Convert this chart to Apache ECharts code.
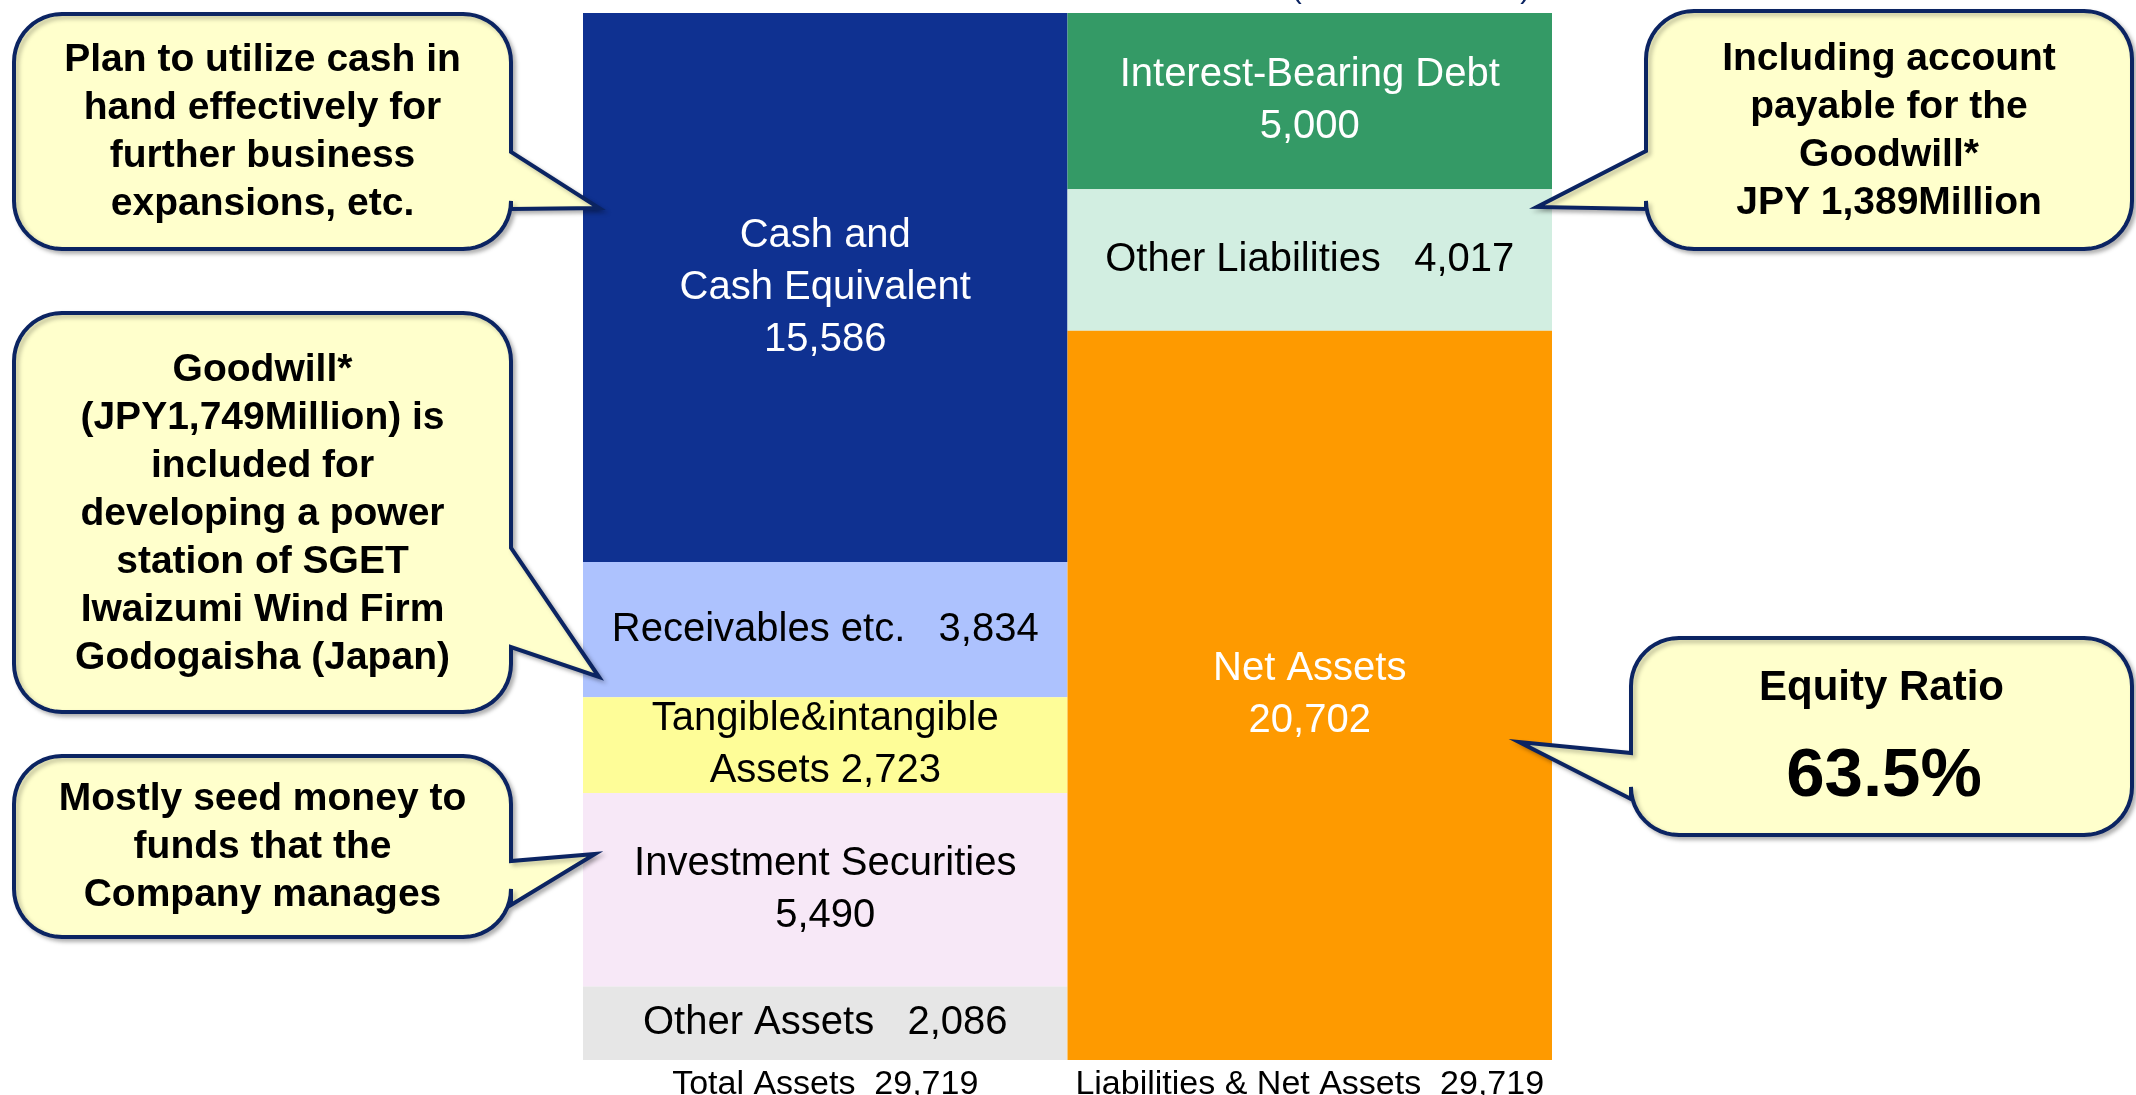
<!DOCTYPE html>
<html>
<head>
<meta charset="utf-8">
<title>Balance Sheet</title>
<script src="https://cdn.jsdelivr.net/npm/echarts@6/dist/echarts.min.js"></script>
<style>
  html, body { margin: 0; padding: 0; background: #fff; }
  #main { width: 2136px; height: 1095px; }
</style>
</head>
<body>
<div id="main"></div>
<script>
// 数据
var categories = ['Total Assets', 'Liabilities & Net Assets'];
var assetNames = ['Cash and\nCash Equivalent\n', 'Receivables etc.   ', 'Tangible&intangible\nAssets ', 'Investment Securities\n', 'Other Assets   '];
var assetValues = [15586, 3834, 2723, 5490, 2086];
var liabNames = ['Interest-Bearing Debt\n', 'Other Liabilities   ', 'Net Assets\n'];
var liabValues = [5000, 4017, 20702];

var assetColors = ['#0f3191', '#adc2fe', '#fefd98', '#f7e8f7', '#e6e6e6'];
var assetText = ['#fff', '#000', '#000', '#000', '#000'];
var liabColors = ['#349a66', '#d2eee1', '#fe9a00'];
var liabText = ['#fff', '#000', '#fff'];

var FONT = '"Liberation Sans", Arial, Helvetica, sans-serif';

function fmt(v) {
  return v.toLocaleString('en-US');
}
function sum(arr) {
  return arr.reduce(function (a, b) { return a + b; }, 0);
}
var totals = [sum(assetValues), sum(liabValues)];

function makeSeries(names, values, colors, textColors, col) {
  return values.map(function (v, i) {
    var d = col === 0 ? [v, '-'] : ['-', v];
    return {
      type: 'bar',
      stack: 'bs',
      barCategoryGap: '0%',
      barWidth: '100%',
      data: d,
      itemStyle: { color: colors[i] },
      silent: true,
      label: {
        show: true,
        position: 'inside',
        fontFamily: FONT,
        fontSize: 40,
        lineHeight: 52,
        color: textColors[i],
        align: 'center',
        formatter: function (p) {
          return names[i] + fmt(p.value);
        }
      }
    };
  });
}

var series = makeSeries(assetNames, assetValues, assetColors, assetText, 0)
  .concat(makeSeries(liabNames, liabValues, liabColors, liabText, 1));

// 吹き出し (rounded box + tail) as polygon points
function arcPts(cx, cy, r, a0, a1) {
  var pts = [];
  var n = 12;
  for (var i = 0; i <= n; i++) {
    var a = a0 + (a1 - a0) * i / n;
    pts.push([cx + r * Math.cos(a), cy + r * Math.sin(a)]);
  }
  return pts;
}
function calloutPoints(x0, y0, x1, y1, r, side, ya, yb, tx, ty) {
  var P = Math.PI;
  var pts = [];
  // top-right corner
  pts = pts.concat(arcPts(x1 - r, y0 + r, r, -P / 2, 0));
  if (side === 'right') {
    pts.push([x1, ya], [tx, ty], [x1, yb]);
  }
  // bottom-right, bottom-left
  pts = pts.concat(arcPts(x1 - r, y1 - r, r, 0, P / 2));
  pts = pts.concat(arcPts(x0 + r, y1 - r, r, P / 2, P));
  if (side === 'left') {
    pts.push([x0, yb], [tx, ty], [x0, ya]);
  }
  // top-left
  pts = pts.concat(arcPts(x0 + r, y0 + r, r, P, P * 1.5));
  return pts;
}

function callout(box, text, cy, fontSize, lineHeight) {
  var shape = {
    type: 'polygon',
    shape: { points: calloutPoints.apply(null, box) },
    style: {
      fill: '#ffffcc',
      stroke: '#0b2462',
      lineWidth: 4,
      lineJoin: 'miter',
      shadowColor: 'rgba(0,0,0,0.25)',
      shadowBlur: 4,
      shadowOffsetX: 3,
      shadowOffsetY: 3
    },
    z: 10
  };
  var label = {
    type: 'text',
    z: 11,
    style: {
      text: text,
      x: (box[0] + box[2]) / 2,
      y: cy,
      textAlign: 'center',
      textVerticalAlign: 'middle',
      fontFamily: FONT,
      fontWeight: 'bold',
      fontSize: fontSize || 39,
      lineHeight: lineHeight || 48,
      fill: '#000'
    }
  };
  return [shape, label];
}

var graphics = []
  .concat(callout([14, 14, 511, 249, 48, 'right', 152, 209, 599, 208],
    'Plan to utilize cash in\nhand effectively for\nfurther business\nexpansions, etc.', 132))
  .concat(callout([1646, 11, 2132, 249, 48, 'left', 151, 209, 1537, 207],
    'Including account\npayable for the\nGoodwill*\nJPY 1,389Million', 131))
  .concat(callout([14, 313, 511, 712, 48, 'right', 548, 647, 599, 677],
    'Goodwill*\n(JPY1,749Million) is\nincluded for\ndeveloping a power\nstation of SGET\nIwaizumi Wind Firm\nGodogaisha (Japan)', 514))
  .concat(callout([14, 756, 511, 937, 48, 'right', 861, 905, 595, 854],
    'Mostly seed money to\nfunds that the\nCompany manages', 847))
  .concat(callout([1631, 638, 2132, 835, 48, 'left', 753, 799, 1519, 742],
    'Equity Ratio', 688, 42, 50));

graphics.push({
  type: 'text',
  z: 11,
  style: {
    text: '63.5%',
    x: 1884,
    y: 777,
    textAlign: 'center',
    textVerticalAlign: 'middle',
    fontFamily: FONT,
    fontWeight: 'bold',
    fontSize: 69,
    fill: '#000'
  }
});
// 単位 (cut at the top edge)
graphics.push({
  type: 'text',
  style: {
    text: '(Unit: JPY Million)',
    x: 1411,
    y: 5,
    textAlign: 'center',
    textVerticalAlign: 'bottom',
    fontFamily: FONT,
    fontSize: 30,
    fill: '#0b2462'
  }
});

var chart = echarts.init(document.getElementById('main'), null, { renderer: 'canvas' });
chart.setOption({
  animation: false,
  backgroundColor: '#fff',
  grid: { left: 583, right: 584, top: 13, bottom: 35, outerBoundsMode: 'none' },
  xAxis: {
    type: 'category',
    data: categories,
    axisLine: { show: false },
    axisTick: { show: false },
    axisLabel: {
      interval: 0,
      hideOverlap: false,
      margin: 8,
      fontFamily: FONT,
      fontSize: 34,
      color: '#000',
      formatter: function (v, idx) {
        return v + '  ' + fmt(totals[idx]);
      }
    }
  },
  yAxis: {
    type: 'value',
    inverse: true,
    min: 0,
    max: totals[0],
    show: false,
    splitLine: { show: false }
  },
  series: series,
  graphic: graphics
});
</script>
</body>
</html>
